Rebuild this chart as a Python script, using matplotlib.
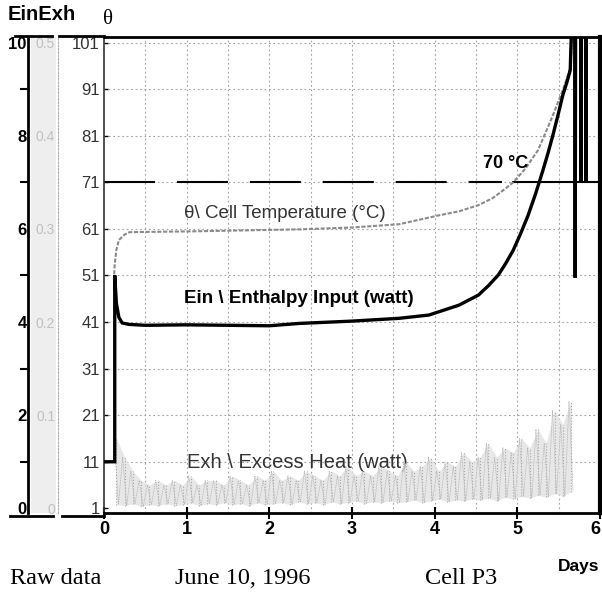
import numpy as np
import matplotlib.pyplot as plt
from matplotlib.lines import Line2D
from matplotlib.patches import Rectangle

plt.rcParams["font.family"] = ["Liberation Sans", "DejaVu Sans"]

# Enthalpy input Ein (watt) vs time (days)
ein_days = [0.0, 0.13, 0.13, 0.15, 0.18, 0.22, 0.30, 0.50, 1.00, 1.50, 2.00,
            2.36, 3.00, 3.57, 3.93, 4.29, 4.40, 4.53, 4.65, 4.77, 4.86, 4.95,
            5.04, 5.13, 5.22, 5.31, 5.37, 5.43, 5.49, 5.55, 5.60, 5.64,
            5.66, 5.695, 5.70, 5.705, 5.765, 5.77, 5.775, 5.825,
            5.83, 5.835, 5.90]
ein_watt = [1.0, 1.0, 5.0, 4.4, 4.1, 3.98, 3.95, 3.93, 3.94, 3.93, 3.92,
            3.97, 4.02, 4.08, 4.15, 4.36, 4.46, 4.58, 4.78, 5.01, 5.26, 5.54,
            5.90, 6.29, 6.75, 7.26, 7.62, 8.01, 8.43, 8.87, 9.15, 9.41,
            10.6, 10.6, 4.95, 10.6, 10.6, 7.0, 10.6, 10.6,
            7.0, 10.6, 10.6]

# cell temperature theta (axis units) vs time (days)
temp_days = [0.12, 0.13, 0.15, 0.18, 0.25, 0.31, 1.16, 2.36, 3.00, 3.57,
             4.05, 4.30, 4.53, 4.70, 4.83, 4.95, 5.10, 5.25, 5.35, 5.43,
             5.55, 5.64, 5.67]
temp_theta = [50.0, 53.5, 56.5, 58.6, 59.8, 60.3, 60.5, 60.9, 61.3, 62.0,
              63.9, 64.8, 66.1, 67.6, 69.3, 71.0, 74.0, 77.9, 82.0, 85.4,
              90.8, 95.5, 104.0]

# excess heat Exh (watt): noise band, lower / upper edge per 0.1 day
exh_hi = [0.075, 0.055, 0.040, 0.030, 0.025, 0.030, 0.025, 0.030, 0.025, 0.035,
          0.025, 0.030, 0.030, 0.025, 0.035, 0.030, 0.025, 0.035, 0.030, 0.040,
          0.030, 0.035, 0.030, 0.040, 0.035, 0.030, 0.040, 0.035, 0.045, 0.035,
          0.040, 0.035, 0.045, 0.040, 0.035, 0.050, 0.040, 0.045, 0.055, 0.040,
          0.050, 0.045, 0.060, 0.050, 0.055, 0.070, 0.055, 0.065, 0.060, 0.075,
          0.065, 0.085, 0.070, 0.105, 0.090, 0.115]
exh_lo = [0.004, 0.003, 0.005, 0.002, 0.004, 0.003, 0.005, 0.003, 0.004, 0.006,
          0.003, 0.005, 0.004, 0.006, 0.004, 0.005, 0.003, 0.006, 0.004, 0.005,
          0.006, 0.004, 0.007, 0.005, 0.006, 0.004, 0.007, 0.005, 0.006, 0.008,
          0.005, 0.007, 0.006, 0.008, 0.006, 0.007, 0.009, 0.006, 0.008, 0.010,
          0.007, 0.009, 0.008, 0.010, 0.009, 0.011, 0.008, 0.012, 0.010, 0.013,
          0.011, 0.014, 0.012, 0.016, 0.013, 0.018]
exh_days = np.linspace(0.15, 5.65, len(exh_hi))

limit_theta = 71
limit_label = "70 °C"

day_ticks = [0, 1, 2, 3, 4, 5, 6]
theta_ticks = [1, 11, 21, 31, 41, 51, 61, 71, 81, 91, 101]
ein_ticks = [0, 2, 4, 6, 8, 10]
ein_minor = [1, 3, 5, 7, 9]
exh_labels = ["0", "0.1", "0.2", "0.3", "0.4", "0.5"]

W, H = 602, 598
fig = plt.figure(figsize=(W / 100, H / 100), dpi=100)
ax = fig.add_axes([104 / W, 1 - 513 / H, 496 / W, 476 / H])
ax.set_xlim(0, 6)
ax.set_ylim(0, 102.2)

# light scan shading behind the Ein / Exh scales
fig.add_artist(Rectangle((31 / W, 1 - 513 / H), 25 / W, 476 / H,
                         transform=fig.transFigure, color="#eeeeee", lw=0,
                         zorder=0))

# extra vertical axes on the left
exh_ax = ax.twinx()
exh_ax.set_ylim(-0.1 / 20, 10.12 / 20)
ein_ax = ax.twinx()
ein_ax.set_ylim(-0.1, 10.12)

# grid
grid_kw = dict(color="#a0a0a0", lw=0.8, ls=(0, (1.5, 2.5)), zorder=0)
for d in np.arange(0.5, 6, 0.5):
    ax.axvline(d, **grid_kw)
for t in theta_ticks[1:]:
    ax.axhline(t, **grid_kw)

# 70 degree line
ax.plot([0, 4.82], [limit_theta, limit_theta], color="black", lw=1.5,
        ls=(0, (24.5, 10.5)))
ax.plot([4.95, 6], [limit_theta, limit_theta], color="black", lw=1.5)
ax.text(4.58, 75.0, limit_label, fontsize=13, fontweight="bold", va="center")

# temperature
ax.plot(temp_days, temp_theta, color="#8a8a8a", lw=1.5, ls=(0, (2, 0.8)))

# excess heat noise band
exh_ax.fill_between(exh_days, exh_lo, exh_hi, color="#e2e2e2", lw=0, alpha=0.8)
exh_ax.vlines(exh_days, exh_lo, exh_hi, color="#a8a8a8", lw=0.8, linestyles=":")
zx = np.ravel(np.column_stack([exh_days - 0.025, exh_days + 0.025]))
zy = np.ravel(np.column_stack([exh_hi, exh_lo]))
exh_ax.plot(zx, zy, color="#b4b4b4", lw=0.5, ls=(0, (2, 1)))

# enthalpy input
ein_ax.plot(ein_days, ein_watt, color="black", lw=2.4, solid_joinstyle="miter")

# labels on curves
ax.text(0.97, 64.4, "θ\\ Cell Temperature (°C)", fontsize=13.5, color="#333333",
        va="center")
ax.text(0.97, 46.1, "Ein \\ Enthalpy Input (watt)", fontsize=13.5,
        fontweight="bold", va="center")
ax.text(1.0, 10.9, "Exh \\ Excess Heat (watt)", fontsize=14.5, color="#333333",
        va="center")

# main axis style
ax.spines["top"].set_linewidth(2)
ax.spines["bottom"].set_linewidth(2)
ax.spines["right"].set_linewidth(3)
ax.spines["left"].set_linewidth(1.2)
ax.spines["left"].set_color("#333333")
ax.set_xticks(day_ticks)
ax.set_xticklabels([str(d) for d in day_ticks], fontsize=13, fontweight="bold")
ax.get_xticklabels()[-1].set_horizontalalignment("right")
ax.tick_params(axis="x", direction="inout", length=8, width=1.5, pad=2)
ax.set_yticks(theta_ticks)
ax.set_yticklabels([str(t) for t in theta_ticks], fontsize=12, color="#333333")
ax.tick_params(axis="y", direction="in", length=3, width=1, pad=3)

# Ein axis
for s in ["top", "right", "bottom"]:
    ein_ax.spines[s].set_visible(False)
    exh_ax.spines[s].set_visible(False)
ein_ax.spines["left"].set_visible(True)
ein_ax.spines["left"].set_position(("axes", (28 - 104) / 496))
ein_ax.spines["left"].set_linewidth(2)
ein_ax.yaxis.set_ticks_position("left")
ein_ax.set_yticks(ein_ticks)
ein_ax.set_yticklabels([str(v) for v in ein_ticks], fontsize=12,
                       fontweight="bold")
ein_ax.set_yticks(ein_minor, minor=True)
ein_ax.tick_params(axis="y", which="major", length=0, pad=1)
ein_ax.tick_params(axis="y", which="minor", length=6, width=1.5,
                   direction="out")

# Exh axis
exh_ax.spines["left"].set_visible(True)
exh_ax.spines["left"].set_position(("axes", (58 - 104) / 496))
exh_ax.spines["left"].set_color("#b0b0b0")
exh_ax.spines["left"].set_linestyle((0, (1.5, 1.5)))
exh_ax.yaxis.set_ticks_position("left")
exh_ax.set_yticks([v / 20 for v in ein_ticks])
exh_ax.set_yticklabels(exh_labels, fontsize=10, color="#c0c0c0")
exh_ax.tick_params(axis="y", length=0, pad=2)

# frame lines of the left block
for x0, x1, y in [(15, 52, 36), (59, 104, 36), (10, 53, 516), (62, 104, 516)]:
    fig.add_artist(Line2D([x0 / W, x1 / W], [1 - y / H, 1 - y / H],
                          transform=fig.transFigure, color="black", lw=2))

fig.text(8 / W, 1 - 15 / H, "EinExh", fontsize=14.5, fontweight="bold",
         va="center")
fig.text(103 / W, 1 - 20 / H, "θ", fontsize=15, family="Liberation Serif",
         va="center")
fig.text(558 / W, 1 - 566 / H, "Days", fontsize=12.5, fontweight="bold",
         va="center")

cap_kw = dict(fontsize=17.5, family="Liberation Serif", va="center")
fig.text(10 / W, 1 - 578 / H, "Raw data", **cap_kw)
fig.text(175 / W, 1 - 578 / H, "June 10, 1996", **cap_kw)
fig.text(425 / W, 1 - 578 / H, "Cell P3", **cap_kw)

fig.savefig("out.png", dpi=100)
